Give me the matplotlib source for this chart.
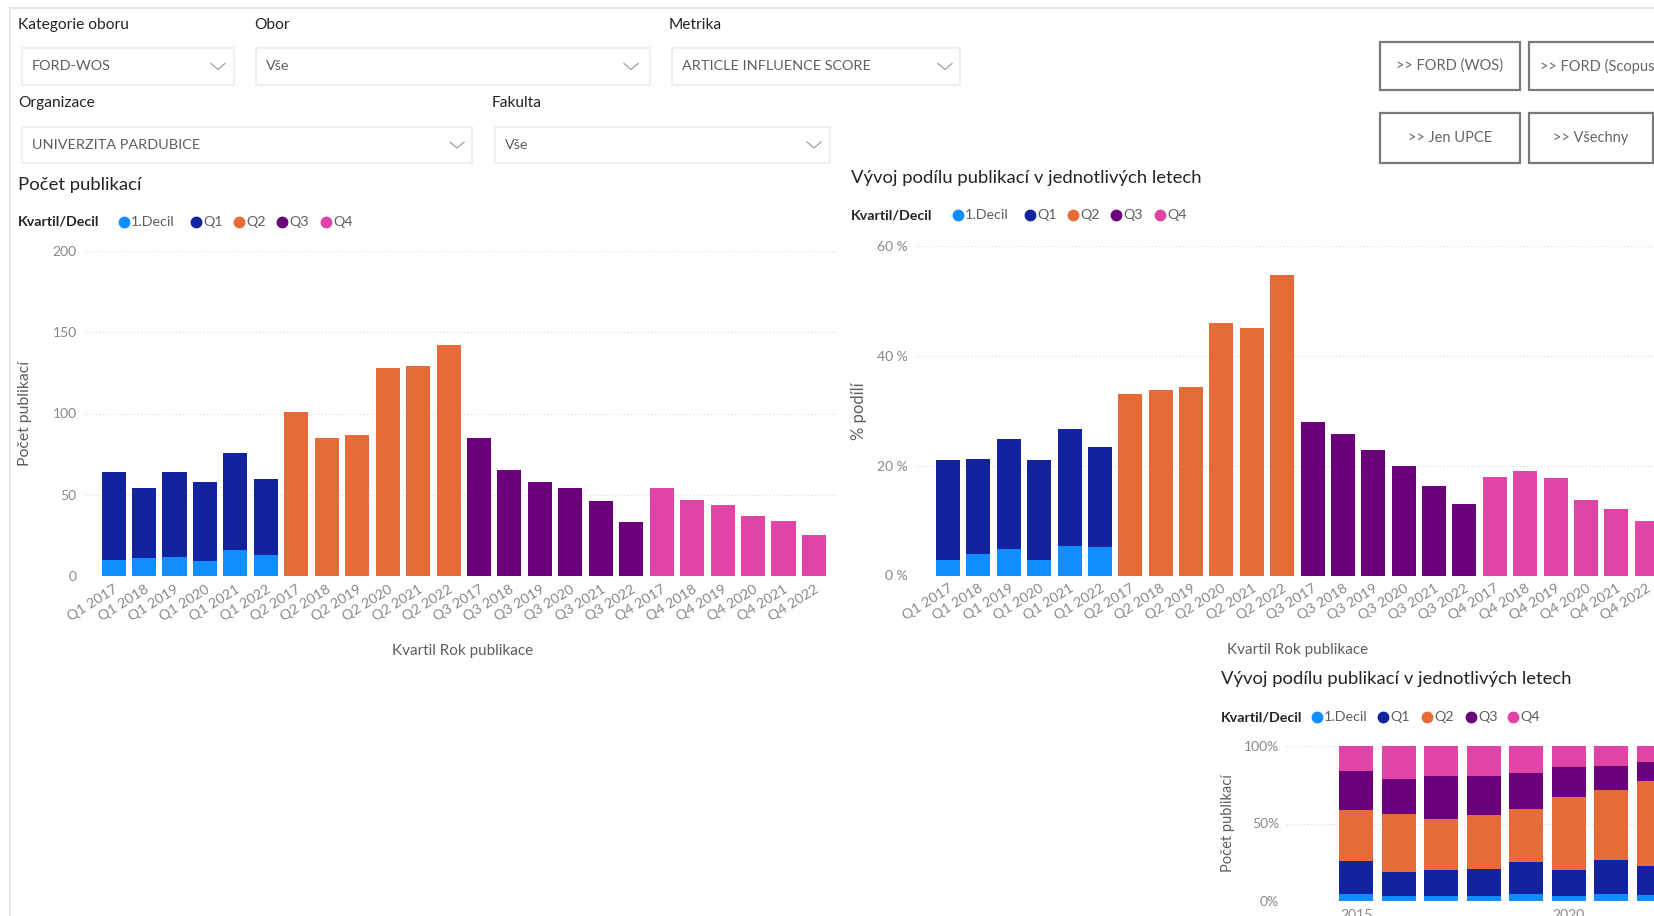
import matplotlib
matplotlib.use('Agg')
import matplotlib.pyplot as plt
from matplotlib.patches import Rectangle
from matplotlib.lines import Line2D

W, H = 1654, 916
plt.rcParams['font.family'] = ['Lato', 'DejaVu Sans']

# ---------------- data ----------------
cat_q1 = ['Q1 2017', 'Q1 2018', 'Q1 2019', 'Q1 2020', 'Q1 2021', 'Q1 2022']
cat_q2 = ['Q2 2017', 'Q2 2018', 'Q2 2019', 'Q2 2020', 'Q2 2021', 'Q2 2022']
cat_q3 = ['Q3 2017', 'Q3 2018', 'Q3 2019', 'Q3 2020', 'Q3 2021', 'Q3 2022']
cat_q4 = ['Q4 2017', 'Q4 2018', 'Q4 2019', 'Q4 2020', 'Q4 2021', 'Q4 2022']

# counts (Počet publikací)
cnt_decil = [10, 11, 12, 9, 16, 13]
cnt_q1 = [54, 43, 52, 49, 60, 47]      # Q1 part above 1.Decil
cnt_q2 = [101, 85, 87, 128, 129, 142]
cnt_q3 = [85, 65, 58, 54, 46, 33]
cnt_q4 = [54, 47, 44, 37, 34, 25]

# shares (% podílu)
shr_decil = [2.9, 4.0, 4.8, 2.9, 5.3, 5.1]
shr_q1 = [18.2, 17.3, 20.1, 18.2, 21.3, 18.3]
shr_q2 = [33.1, 33.8, 34.3, 46.0, 45.1, 54.8]
shr_q3 = [27.9, 25.8, 22.9, 20.0, 16.3, 13.0]
shr_q4 = [18.0, 19.1, 17.7, 13.7, 12.1, 10.0]

# 100 % stacked by year
years = [2015, 2016, 2017, 2018, 2019, 2020, 2021, 2022]
yr_decil = [4.7, 3.0, 3.0, 3.0, 4.7, 3.0, 4.7, 3.7]
yr_q1 = [20.9, 15.8, 16.8, 17.7, 20.3, 17.3, 21.6, 18.7]
yr_q2 = [33.0, 37.2, 32.8, 34.7, 34.5, 46.5, 45.3, 55.0]
yr_q3 = [25.5, 22.7, 28.2, 25.4, 22.8, 19.4, 15.5, 12.5]
yr_q4 = [15.9, 21.3, 19.2, 19.2, 17.7, 13.8, 12.9, 10.1]

legend_labels = ['1.Decil', 'Q1', 'Q2', 'Q3', 'Q4']
colors = ['#118DFF', '#12239E', '#E66C37', '#6B007B', '#E044A7']

TXT = '#252423'
GRAY = '#605E5C'
TICK = '#8a8886'
GRID = '#e4e4e4'

fig = plt.figure(figsize=(W / 100, H / 100), dpi=100)
fig.patch.set_facecolor('white')


def fx(x):
    return x / W


def fy(y):
    return 1 - y / H


def ftext(x, y, s, **kw):
    kw.setdefault('va', 'center')
    kw.setdefault('ha', 'left')
    return fig.text(fx(x), fy(y), s, **kw)


def add_ax(x0, y0, x1, y1):
    return fig.add_axes([fx(x0), fy(y1), (x1 - x0) / W, (y1 - y0) / H])


# ---------- frame ----------
fig.add_artist(Line2D([fx(10), fx(W)], [fy(8), fy(8)], color='#e6e6e6', lw=1.5))
fig.add_artist(Line2D([fx(10), fx(10)], [fy(8), fy(H)], color='#e6e6e6', lw=1.5))

# ---------- slicers ----------
def slicer(label, lx, ly, bx0, by0, bx1, by1, value, chev_x):
    ftext(lx, ly, label, fontsize=11.2, color=TXT)
    fig.add_artist(Rectangle((fx(bx0), fy(by1)), (bx1 - bx0) / W, (by1 - by0) / H,
                             transform=fig.transFigure, facecolor='white',
                             edgecolor='#ececec', lw=1.2))
    cy = (by0 + by1) / 2
    ftext(bx0 + 10, cy, value, fontsize=10.4, color=GRAY)
    fig.add_artist(Line2D([fx(chev_x - 7), fx(chev_x), fx(chev_x + 7)],
                          [fy(cy - 3), fy(cy + 3), fy(cy - 3)],
                          color='#a0a0a0', lw=0.9))


slicer('Kategorie oboru', 18, 25, 22, 48, 234, 85, 'FORD-WOS', 218)
slicer('Obor', 254, 25, 256, 48, 650, 85, 'Vše', 631)
slicer('Metrika', 669, 25, 672, 48, 960, 85, 'ARTICLE INFLUENCE SCORE', 945)
slicer('Organizace', 18, 103, 22, 127, 472, 163, 'UNIVERZITA PARDUBICE', 457)
slicer('Fakulta', 492, 103, 495, 127, 830, 163, 'Vše', 814)

# ---------- buttons ----------
def button(x0, y0, x1, y1, s):
    fig.add_artist(Rectangle((fx(x0), fy(y1)), (x1 - x0) / W, (y1 - y0) / H,
                             transform=fig.transFigure, facecolor='white',
                             edgecolor='#7a7a7a', lw=1.6))
    ftext((x0 + x1) / 2, (y0 + y1) / 2, s, ha='center', fontsize=10.5, color='#666666')


button(1380, 42, 1520, 90, '>> FORD (WOS)')
button(1529, 42, 1669, 90, '>> FORD (Scopus)')
button(1380, 113, 1520, 163, '>> Jen UPCE')
button(1529, 113, 1653, 163, '>> Všechny')


# ---------- legends ----------
def legend(x, y, marker_xs):
    ftext(x, y, 'Kvartil/Decil', fontsize=10.3, weight='bold', color=TXT)
    for mx, lab, c in zip(marker_xs, legend_labels, colors):
        fig.add_artist(Line2D([fx(mx)], [fy(y)], marker='o', ms=7.5, color=c, lw=0,
                              transform=fig.transFigure))
        ftext(mx + 7, y, lab, fontsize=10.3, color=GRAY)


def style_axes(ax):
    for s in ax.spines.values():
        s.set_visible(False)
    ax.tick_params(length=0, colors=TICK, labelsize=10)
    ax.set_axisbelow(True)
    ax.grid(axis='y', color=GRID, lw=1, ls=(0, (1, 1.5)))
    ax.grid(axis='x', visible=False)
    ax.set_facecolor('none')


def rotate_labels(ax):
    ax.tick_params(axis='x', labelsize=10.3, pad=5)
    for lab in ax.get_xticklabels():
        lab.set_rotation(32)
        lab.set_ha('right')
        lab.set_rotation_mode('anchor')


# ---------- chart 1: Počet publikací ----------
ftext(18, 185, 'Počet publikací', fontsize=13.3, color=TXT)
legend(18, 222, [124, 196, 239, 282, 326])

ax1 = add_ax(85, 251, 838, 576)
bw = 0.79
ax1.bar(cat_q1, cnt_decil, width=bw, color=colors[0])
ax1.bar(cat_q1, cnt_q1, width=bw, bottom=cnt_decil, color=colors[1])
ax1.bar(cat_q2, cnt_q2, width=bw, color=colors[2])
ax1.bar(cat_q3, cnt_q3, width=bw, color=colors[3])
ax1.bar(cat_q4, cnt_q4, width=bw, color=colors[4])
ax1.set_ylim(0, 200)
ax1.set_yticks([0, 50, 100, 150, 200])
ax1.set_xlim(-0.94, 23.79)
style_axes(ax1)
ax1.tick_params(axis='y', pad=6)
rotate_labels(ax1)
ax1.set_ylabel('Počet publikací', fontsize=11.3, color=GRAY)
ax1.yaxis.label.set_va('center')
ax1.yaxis.set_label_coords(-(85 - 25.5) / 753, 0.5)
ftext(463, 651, 'Kvartil Rok publikace', ha='center', fontsize=11, color=GRAY)

# ---------- chart 2: Vývoj podílu (quartile-year) ----------
ftext(851, 178, 'Vývoj podílu publikací v jednotlivých letech', fontsize=13.3, color=TXT)
legend(851, 215, [958, 1030, 1073, 1116, 1160])

ax2 = add_ax(915, 246, 1671, 575.5)
ax2.bar(cat_q1, shr_decil, width=bw, color=colors[0])
ax2.bar(cat_q1, shr_q1, width=bw, bottom=shr_decil, color=colors[1])
ax2.bar(cat_q2, shr_q2, width=bw, color=colors[2])
ax2.bar(cat_q3, shr_q3, width=bw, color=colors[3])
ax2.bar(cat_q4, shr_q4, width=bw, color=colors[4])
ax2.set_ylim(0, 60)
ax2.set_yticks([0, 20, 40, 60])
ax2.set_yticklabels(['0 %', '20 %', '40 %', '60 %'])
ax2.set_xlim(-1.09, 23.8)
style_axes(ax2)
ax2.tick_params(axis='y', pad=5)
rotate_labels(ax2)
ax2.set_ylabel('% podílí', fontsize=12, color=GRAY)
ax2.yaxis.label.set_va('center')
ax2.yaxis.set_label_coords(-(915 - 859) / 756, 0.5)
ftext(1298, 650, 'Kvartil Rok publikace', ha='center', fontsize=11, color=GRAY)

# ---------- chart 3: 100% stacked by year ----------
ftext(1221, 679, 'Vývoj podílu publikací v jednotlivých letech', fontsize=13.3, color=TXT)
legend(1221, 717, [1317, 1383, 1427, 1471, 1513])

ax3 = add_ax(1286, 746, 1720, 901)
bottom = [0.0] * len(years)
for vals, c in zip([yr_decil, yr_q1, yr_q2, yr_q3, yr_q4], colors):
    ax3.bar(years, vals, width=0.8, bottom=bottom, color=c)
    bottom = [b + v for b, v in zip(bottom, vals)]
ax3.set_ylim(0, 100)
ax3.set_yticks([0, 50, 100])
ax3.set_yticklabels(['0%', '50%', '100%'])
ax3.set_xlim(2013.35, 2013.35 + (1720 - 1286) / 42.5)
ax3.set_xticks([2015, 2020])
style_axes(ax3)
ax3.tick_params(axis='y', pad=5)
ax3.tick_params(axis='x', pad=6)
ax3.set_ylabel('Počet publikací', fontsize=10.5, color=GRAY)
ax3.yaxis.label.set_va('center')
ax3.yaxis.set_label_coords(-(1286 - 1228) / 434, 0.5)

fig.savefig('out.png', dpi=100, facecolor='white')
